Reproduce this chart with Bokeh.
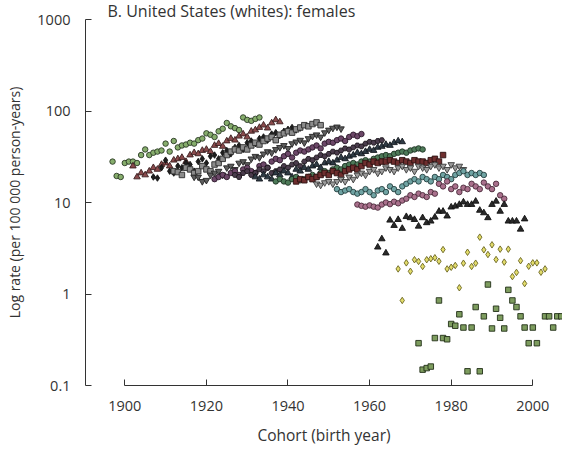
from bokeh.plotting import figure
from bokeh.models import Range1d, FixedTicker, CustomJSTickFormatter
from bokeh.embed import file_html
from bokeh.resources import INLINE

# ---- data: rates per 100 000 person-years by birth cohort, one series per age group ----
s01_start = 1897
s01_rate = [28, 19.5, 19, 27, 28, 28, 27, 33, 38, 33, 35, 36, 37, 44, 36, 47, 40, 42, 43, 45,
            44, 48, 50, 57, 55, 52, 60, 64, 74, 68, 65, 62, 85, 80, 78, 82, 85]
s02_start = 1902
s02_rate = [25, 19, 21, 20, 22, 24, 23, 26, 27, 25, 29, 30, 31, 28, 33, 35, 34, 37, 38, 36,
            42, 44, 41, 47, 50, 48, 53, 56, 52, 60, 62, 66, 70, 65, 74, 80, 76]
s03_start = 1907
s03_rate = [19, 18.5, 24, 29, 22, 21, 25, 24, 27, 26, 22, 28, 30, 27, 32, 33, 30, 35, 37, 34,
            40, 42, 38, 45, 47, 44, 50, 52, 48, 56, 58, 54, 60, 63, 66, 62, 65]
s04_start = 1912
s04_rate = [22, 21.5, 20, 24, 23, 21, 22, 25, 23, 22, 26, 27, 30, 33, 36, 38, 37, 40, 38, 42,
            45, 43, 47, 50, 52, 48, 55, 57, 60, 58, 63, 66, 70, 68, 72, 75, 70]
s05_start = 1917
s05_rate = [19, 19, 17, 17.5, 20, 21, 22, 20, 24, 25, 23, 27, 28, 26, 30, 32, 31, 34, 36, 35,
            38, 40, 42, 39, 44, 46, 48, 45, 50, 53, 55, 52, 58, 62, 65, 67, 64]
s06_start = 1922
s06_rate = [18, 19, 20, 19, 21, 22, 20, 23, 24, 22, 21, 25, 26, 24, 28, 30, 29, 32, 34, 31,
            35, 37, 36, 38, 40, 42, 39, 44, 46, 45, 48, 50, 47, 52, 55, 53, 56]
s07_start = 1927
s07_rate = [20, 19, 21, 22, 20, 21, 23, 22, 24, 21, 22, 23, 25, 24, 26, 27, 25, 28, 30, 29,
            31, 33, 32, 34, 36, 35, 37, 39, 38, 40, 42, 41, 44, 46, 45, 47, 48]
s08_start = 1932
s08_rate = [19, 18, 20, 19, 18, 21, 20, 22, 21, 19, 23, 22, 24, 23, 25, 26, 24, 27, 28, 27,
            29, 31, 30, 32, 33, 35, 34, 36, 38, 37, 40, 41, 43, 42, 45, 47, 46]
s09_start = 1937
s09_rate = [17, 18, 17, 16.5, 18, 19, 17.5, 18, 19, 20, 19, 21, 22, 21, 23, 24, 23, 25, 26, 27,
            26, 28, 29, 28, 30, 31, 32, 33, 32, 34, 35, 36, 35, 37, 38, 39, 38]
s10_start = 1942
s10_rate = [17, 18, 17.5, 19, 18, 19, 20, 21, 20, 22, 21, 20, 22, 23, 24, 23, 25, 27, 26, 28,
            27, 28, 28, 29, 28, 27, 29, 28, 27, 29, 28, 28, 27, 29, 30, 28, 33]
s11_start = 1947
s11_rate = [16, 15.5, 16.5, 17, 16, 17, 18, 17, 19, 18, 20, 21, 20, 22, 23, 21, 22, 24, 23, 22,
            24, 25, 23, 24, 22, 25, 24, 23, 25, 26, 24, 25, 23, 26, 24, 25, 23]
s12_start = 1952
s12_rate = [14, 13, 13.5, 14, 13, 12.5, 13, 14, 13, 12, 13.5, 14, 13, 15, 14, 13, 15, 16, 17, 18,
            17, 19, 18, 17, 19, 18, 20, 19, 18, 20, 21, 22, 20, 21, 20, 21, 20]
s13_start = 1957
s13_rate = [9.5, 9.2, 9.0, 9.3, 9.0, 8.8, 9.5, 10, 9.6, 10.2, 9.8, 10.5, 11, 12, 11.5, 12.5, 12,
            11.5, 13, 12.5, 16, 15, 17, 14, 15, 13, 14.5, 14, 16, 15, 14, 16.5, 15, 14, 16, 12, 11]
s14_start = 1962
s14_rate = [3.25, 4.0, 2.8, 6.4, 5.6, 6.5, 5.2, 7.0, 6.8, 6.5, 5.5, 6.8, 6.0, 6.25, 6.9, 8.0, 8.0,
            7.1, 8.9, 9.1, 9.5, 10.1, 9.5, 9.5, 10.3, 8.2, 7.7, 6.8, 9.5, 10.3, 8.0, 9.5, 6.25,
            6.25, 6.25, 5.1, 6.6]
s15_start = 1967
s15_rate = [1.88, 0.85, 2.19, 1.77, 2.37, 2.27, 2.0, 2.37, 2.43, 2.49, 2.28, 3.06, 1.88, 1.96,
            2.05, 1.17, 2.17, 2.86, 2.0, 2.17, 4.18, 3.04, 2.70, 3.45, 2.38, 3.09, 2.23, 3.09,
            1.55, 1.72, 2.31, 1.30, 2.01, 2.19, 2.19, 1.73, 1.88]
s16_years = [1972, 1973, 1974, 1975, 1976, 1977, 1978, 1979, 1980, 1981, 1982, 1983, 1984, 1985,
             1986, 1987, 1988, 1989, 1990, 1991, 1992, 1993, 1994, 1995, 1996, 1997, 1998, 1999,
             2000, 2001, 2003, 2004, 2005, 2006, 2007]
s16_rate = [0.29, 0.149, 0.155, 0.161, 0.33, 0.85, 0.33, 0.32, 0.47, 0.45, 0.60, 0.43, 0.143,
            0.43, 0.72, 0.143, 0.57, 1.27, 0.42, 0.69, 0.55, 0.42, 1.11, 0.85, 0.72, 0.57, 0.43,
            0.29, 0.43, 0.29, 0.57, 0.57, 0.43, 0.57, 0.57]

x_ticks = [1900, 1920, 1940, 1960, 1980, 2000]
y_ticks = [0.1, 1, 10, 100, 1000]
title_text = "B. United States (whites): females"
x_title = "Cohort (birth year)"
y_title = "Log rate (per 100 000 person-years)"


def yrs(start, vals):
    return list(range(start, start + len(vals)))


# (years, rates, marker, fill, outline)
series = [
    (yrs(s01_start, s01_rate), s01_rate, "circle", "#86ad6c", "#2b3a26"),
    (yrs(s02_start, s02_rate), s02_rate, "triangle", "#8a4a4c", "#3a1f20"),
    (yrs(s03_start, s03_rate), s03_rate, "diamond", "#1e1e1e", "#111111"),
    (yrs(s04_start, s04_rate), s04_rate, "square", "#8c8c8c", "#2e2e2e"),
    (yrs(s05_start, s05_rate), s05_rate, "inverted_triangle", "#5e5e5e", "#222222"),
    (yrs(s06_start, s06_rate), s06_rate, "circle", "#6c4768", "#2b1a2a"),
    (yrs(s07_start, s07_rate), s07_rate, "hex", "#4a3c4c", "#1c161c"),
    (yrs(s08_start, s08_rate), s08_rate, "triangle", "#2f3b45", "#151a1f"),
    (yrs(s09_start, s09_rate), s09_rate, "circle", "#4d7a58", "#1f3325"),
    (yrs(s10_start, s10_rate), s10_rate, "square", "#6e2e2e", "#2e1212"),
    (yrs(s11_start, s11_rate), s11_rate, "inverted_triangle", "#9c9c9c", "#3a3a3a"),
    (yrs(s12_start, s12_rate), s12_rate, "circle", "#6fa3a3", "#264040"),
    (yrs(s13_start, s13_rate), s13_rate, "circle", "#a9708c", "#4a2a3a"),
    (yrs(s14_start, s14_rate), s14_rate, "triangle", "#2a2a2a", "#111111"),
    (yrs(s15_start, s15_rate), s15_rate, "diamond", "#e2dc6a", "#6a6420"),
    (s16_years, s16_rate, "square", "#7d9c5e", "#233018"),
]

FONT = "Open Sans"
TXT = "#333333"

p = figure(width=562, height=449, output_backend="svg", toolbar_location=None,
           y_axis_type="log",
           x_range=Range1d(1890.37, 2007.28), y_range=Range1d(0.1, 1000),
           min_border_left=85, min_border_right=0, min_border_top=0, min_border_bottom=64)
p.outline_line_color = None
p.xgrid.visible = False
p.ygrid.visible = False
p.background_fill_color = "white"
p.border_fill_color = "white"

p.title.text = title_text
p.title.align = "left"
p.title.offset = 22
p.title.standoff = -5
p.title.text_font = FONT
p.title.text_font_size = "16px"
p.title.text_font_style = "normal"
p.title.text_color = TXT

for xs, ys, mk, fc, lc in series:
    size = 6.5 if mk in ("triangle", "inverted_triangle", "diamond") else 5.5
    p.scatter(xs, ys, marker=mk, size=size, fill_color=fc, line_color=lc, line_width=0.9)

for ax in (p.xaxis[0], p.yaxis[0]):
    ax.major_tick_in = 6
    ax.major_tick_out = 0
    ax.minor_tick_line_color = None
    ax.axis_line_color = TXT
    ax.major_tick_line_color = TXT
    ax.axis_line_width = 1
    ax.major_label_text_font = FONT
    ax.major_label_text_font_size = "14.5px"
    ax.major_label_text_color = TXT
    ax.axis_label_text_font = FONT
    ax.axis_label_text_font_style = "normal"
    ax.axis_label_text_color = TXT
    ax.major_label_standoff = 15

p.xaxis.ticker = FixedTicker(ticks=x_ticks)
p.xaxis.bounds = (x_ticks[0], x_ticks[-1])
p.xaxis.axis_label = x_title
p.xaxis.axis_label_text_font_size = "15.5px"
p.xaxis.axis_label_standoff = 10

p.yaxis.ticker = FixedTicker(ticks=y_ticks)
p.yaxis.bounds = (y_ticks[0], y_ticks[-1])
p.yaxis.formatter = CustomJSTickFormatter(code="return String(Number(tick.toPrecision(3)));")
p.yaxis.axis_label = y_title
p.yaxis.axis_label_text_font_size = "14px"
p.yaxis.axis_label_standoff = 10

open("out.html", "w").write(file_html(p, INLINE))
